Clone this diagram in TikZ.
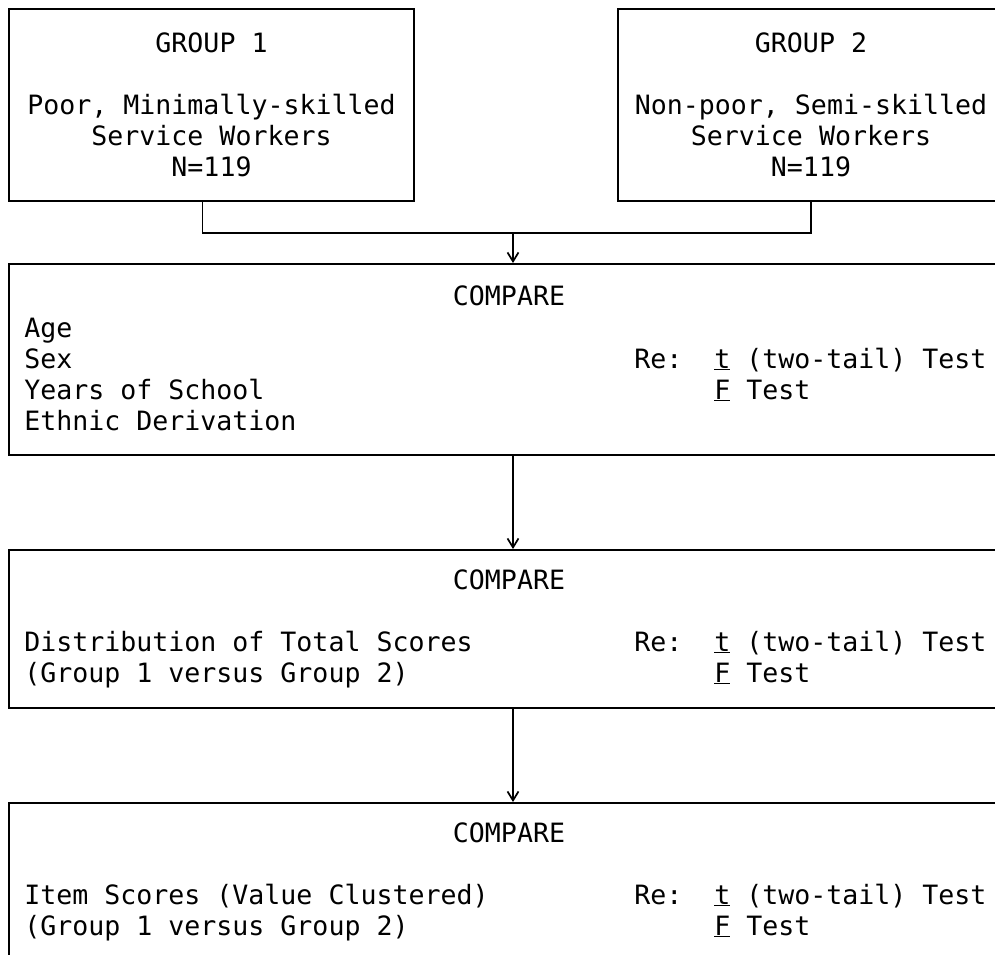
\documentclass[tikz,border=0pt]{standalone}
\usepackage{fontspec}
\newfontfamily\typefont{DejaVu Sans Mono}
\usetikzlibrary{positioning,arrows.meta,calc}

\begin{document}
\begin{tikzpicture}[x=1pt, y=1pt,
    box/.style={draw, line width=1.9pt, inner sep=0pt},
    txt/.style={font=\typefont\fontsize{26.6}{31}\selectfont, inner sep=0pt},
    flow/.style={line width=1.7pt, -{Straight Barb[length=9pt,width=11pt]}}]
    \useasboundingbox (0,0) rectangle (995,954);
    \clip (0,0) rectangle (995,954);

    % Groups
    \node[box, txt, align=center, minimum width=405pt, minimum height=192pt] (grp1) at (211.5,849)
        {GROUP 1\\[31pt]Poor, Minimally-skilled\\Service Workers\\N=119};
    \node[box, txt, align=center, minimum width=386pt, minimum height=192pt] (grp2) at (811,849)
        {GROUP 2\\[31pt]Non-poor, Semi-skilled\\Service Workers\\N=119};

    % Compare boxes
    \node[box, minimum width=1008pt, minimum height=191pt] (cmp1) at (513,594.5) {};
    \node[box, minimum width=1008pt, minimum height=158pt] (cmp2) at (513,325) {};
    \node[box, minimum width=1008pt, minimum height=200pt] (cmp3) at (513,51) {};

    % Join of the two groups
    \coordinate (join) at (513,721);
    \draw[line width=1.9pt] ([xshift=-9pt]grp1.south) |- (join) -| (grp2.south);
    \draw[flow] (join) -- (join |- cmp1.north);
    \draw[flow] (cmp1.south) -- (cmp2.north);
    \draw[flow] (cmp2.south) -- (cmp3.north);

    % First comparison
    \node[txt, anchor=base] (ttl1) at ([shift={(-4,-42)}]cmp1.north) {COMPARE};
    \node[txt, anchor=base west] (age) at ([shift={(16,-74)}]cmp1.north west) {Age};
    \node[txt, anchor=base west] (sex) at ([shift={(16,-105)}]cmp1.north west) {Sex};
    \node[txt, anchor=base west] (school) at ([shift={(16,-136)}]cmp1.north west) {Years of School};
    \node[txt, anchor=base west] (ethnic) at ([shift={(16,-167)}]cmp1.north west) {Ethnic Derivation};
    \node[txt, anchor=base west] (re1) at ([shift={(626,-105)}]cmp1.north west) {Re:};
    \node[txt, anchor=base west] (ttest1) at ([shift={(706,-105)}]cmp1.north west) {\underline{t} (two-tail) Test};
    \node[txt, anchor=base west] (ftest1) at ([shift={(706,-136)}]cmp1.north west) {\underline{F} Test};

    % Second comparison
    \node[txt, anchor=base] (ttl2) at ([shift={(-4,-40)}]cmp2.north) {COMPARE};
    \node[txt, anchor=base west] (total) at ([shift={(16,-102)}]cmp2.north west) {Distribution of Total Scores};
    \node[txt, anchor=base west] (vs2) at ([shift={(16,-133)}]cmp2.north west) {(Group 1 versus Group 2)};
    \node[txt, anchor=base west] (re2) at ([shift={(626,-102)}]cmp2.north west) {Re:};
    \node[txt, anchor=base west] (ttest2) at ([shift={(706,-102)}]cmp2.north west) {\underline{t} (two-tail) Test};
    \node[txt, anchor=base west] (ftest2) at ([shift={(706,-133)}]cmp2.north west) {\underline{F} Test};

    % Third comparison
    \node[txt, anchor=base] (ttl3) at ([shift={(-4,-40)}]cmp3.north) {COMPARE};
    \node[txt, anchor=base west] (items) at ([shift={(16,-102)}]cmp3.north west) {Item Scores (Value Clustered)};
    \node[txt, anchor=base west] (vs3) at ([shift={(16,-133)}]cmp3.north west) {(Group 1 versus Group 2)};
    \node[txt, anchor=base west] (re3) at ([shift={(626,-102)}]cmp3.north west) {Re:};
    \node[txt, anchor=base west] (ttest3) at ([shift={(706,-102)}]cmp3.north west) {\underline{t} (two-tail) Test};
    \node[txt, anchor=base west] (ftest3) at ([shift={(706,-133)}]cmp3.north west) {\underline{F} Test};
\end{tikzpicture}
\end{document}
